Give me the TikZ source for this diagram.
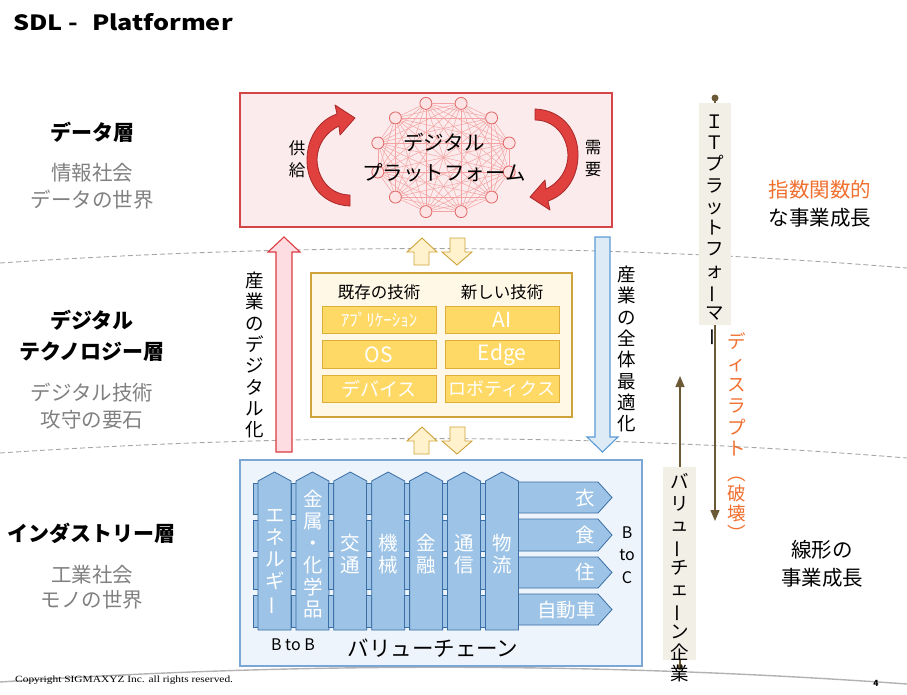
\documentclass[tikz,border=0pt]{standalone}
\usepackage{fontspec}
\usepackage{graphicx}
\setmainfont{Noto Sans CJK JP}
\newfontfamily\cpfont{Liberation Serif}
\usetikzlibrary{arrows.meta}
\definecolor{boxred}{HTML}{D64545}
\definecolor{boxredfill}{HTML}{FCEBEC}
\definecolor{netline}{HTML}{F3A3A3}
\definecolor{netnodefill}{HTML}{FDE3E3}
\definecolor{netnodedraw}{HTML}{E06464}
\definecolor{carrowfill}{HTML}{E0403E}
\definecolor{carrowdraw}{HTML}{A8282A}
\definecolor{uparrowfill}{HTML}{FDDDE2}
\definecolor{uparrowdraw}{HTML}{DC3A40}
\definecolor{dnarrowfill}{HTML}{DDEBF7}
\definecolor{dnarrowdraw}{HTML}{5B9BD5}
\definecolor{goldfill}{HTML}{FFF2CC}
\definecolor{golddraw}{HTML}{CFA23A}
\definecolor{goldbox}{HTML}{FFF8E6}
\definecolor{cellfill}{HTML}{FFD966}
\definecolor{celldraw}{HTML}{DDAE3A}
\definecolor{bluebox}{HTML}{EEF4FB}
\definecolor{blueboxdraw}{HTML}{7AA7D6}
\definecolor{pillarfill}{HTML}{9DC3E6}
\definecolor{pillardraw}{HTML}{3A6EA5}
\definecolor{beige}{HTML}{F2EFE6}
\definecolor{brownline}{HTML}{6B5A35}
\definecolor{orangetxt}{HTML}{F07030}
\definecolor{graytxt}{HTML}{808080}
\definecolor{dashgray}{HTML}{A6A6A6}
\newcommand\fsz[2]{\fontsize{#1}{#2}\selectfont}
\newcommand\vbar{\rotatebox[origin=c]{90}{ー}}
\begin{document}
\begin{tikzpicture}[x=1pt,y=-1pt,
  txt/.style={inner sep=0pt, align=center},
  layerhead/.style={txt, font=\bfseries\fsz{21}{27}},
  layersub/.style={txt, text=graytxt, font=\fsz{20.5}{27}},
  vtxt/.style={txt, font=\fsz{18.5}{21.3}},
  pillartxt/.style={txt, text=white, font=\fsz{19.5}{22}},
  celltxt/.style={txt, text=white},
  cellbox/.style={draw=celldraw, fill=cellfill, line width=0.8pt, minimum width=114pt, minimum height=27.5pt, inner sep=0pt},
  netnode/.style={circle, draw=netnodedraw, fill=netnodefill, minimum size=12pt, inner sep=0pt, line width=0.8pt},
  netedge/.style={draw=netline, line width=0.5pt},
  curvearrow/.style={fill=carrowfill, draw=carrowdraw, line width=0.8pt, line join=round},
  goldarrow/.style={fill=goldfill, draw=golddraw, line width=0.9pt, line join=miter},
  layerline/.style={dashgray, dashed, dash pattern=on 5pt off 3pt, line width=0.9pt},
  brownarrow/.style={draw=brownline, line width=1.4pt, -{Triangle[width=9pt,length=11pt]}},
]
\useasboundingbox (0,0) rectangle (907,694);

% ---------- layer separators ----------
\draw[layerline] (0,263) .. controls (300,243) and (600,243) .. (907,268);
\draw[layerline] (0,453) .. controls (300,433) and (600,433) .. (907,458);
\draw[draw=black!30, line width=1.4pt] (0,682) .. controls (300,662) and (600,662) .. (907,684);

% ---------- title ----------
\node[anchor=west, txt, font=\bfseries\fsz{21}{24}, xscale=1.2] (title) at (13,22) {SDL -\hspace{0.55em}Platformer};

% ---------- left layer labels ----------
\node[layerhead] (h1) at (92,132) {データ層};
\node[layersub] (s1a) at (92,173) {情報社会};
\node[layersub] (s1b) at (92,200) {データの世界};
\node[layerhead] (h2a) at (92,320) {デジタル};
\node[layerhead] (h2b) at (92,352) {テクノロジー層};
\node[layersub] (s2a) at (92,393) {デジタル技術};
\node[layersub] (s2b) at (92,420) {攻守の要石};
\node[layerhead] (h3) at (92,533) {インダストリー層};
\node[layersub] (s3a) at (92,575) {工業社会};
\node[layersub] (s3b) at (92,600) {モノの世界};

% ---------- data layer box ----------
\draw[draw=boxred, fill=boxredfill, line width=1.3pt] (240,93) rectangle (612,227);
\foreach \i in {0,...,11}{
  \node[netnode] (c\i) at ({443.5+68*cos(15+30*\i)},{157.5+56*sin(15+30*\i)}) {};
}
\foreach \i in {0,...,11}{
  \foreach \j in {0,...,11}{
    \ifnum\i<\j \draw[netedge] (c\i) -- (c\j); \fi
  }
}
\node[txt, font=\fsz{20.5}{30}] (dp) at (444,158) {デジタル\\プラットフォーム};
% curved arrows
\path[curvearrow] (350,206) .. controls (322,205) and (306,183) .. (307,158)
  .. controls (308,134) and (322,119) .. (337,114) -- (335,105) -- (355,118)
  -- (340,135) -- (339,126) .. controls (326,132) and (317,145) .. (317,160)
  .. controls (318,181) and (332,195) .. (350,195) -- cycle;
\begin{scope}[rotate around={180:(442.5,157.5)}]
\path[curvearrow] (350,206) .. controls (322,205) and (306,183) .. (307,158)
  .. controls (308,134) and (322,119) .. (337,114) -- (335,105) -- (355,118)
  -- (340,135) -- (339,126) .. controls (326,132) and (317,145) .. (317,160)
  .. controls (318,181) and (332,195) .. (350,195) -- cycle;
\end{scope}
\node[txt, font=\fsz{16.5}{22}] (kyo) at (297,159) {供\\給};
\node[txt, font=\fsz{16.5}{22}] (ju) at (593,159) {需\\要};

% ---------- big vertical arrows ----------
\draw[fill=uparrowfill, draw=uparrowdraw, line width=1.1pt]
  (284,237) -- (300,252) -- (292,252) -- (292,452) -- (276,452) -- (276,252) -- (268,252) -- cycle;
\node[vtxt] (lbl1) at (255,355) {産\\業\\の\\デ\\ジ\\タ\\ル\\化};
\draw[fill=dnarrowfill, draw=dnarrowdraw, line width=1.1pt]
  (595,237) -- (610,237) -- (610,437) -- (618,437) -- (602.5,452) -- (587,437) -- (595,437) -- cycle;
\node[vtxt] (lbl2) at (627,349) {産\\業\\の\\全\\体\\最\\適\\化};

% ---------- gold small arrows ----------
\foreach \dy in {0,189}{
  \begin{scope}[yshift=-\dy pt]
  \draw[goldarrow] (422,238) -- (437,252) -- (429,252) -- (429,265) -- (414,265) -- (414,252) -- (407,252) -- cycle;
  \draw[goldarrow] (450,238) -- (465,238) -- (465,252) -- (472,252) -- (457,265) -- (442,252) -- (450,252) -- cycle;
  \end{scope}
}

% ---------- technology box ----------
\draw[draw=golddraw, fill=goldbox, line width=1.1pt] (311,273) rectangle (572,417);
\node[txt, font=\fsz{16.5}{20}] (old) at (379,292) {既存の技術};
\node[txt, font=\fsz{16.5}{20}] (new) at (502,292) {新しい技術};
\node[cellbox] (a1) at (379,320) {};
\node[cellbox] (a2) at (379,354.5) {};
\node[cellbox] (a3) at (379,389) {};
\node[cellbox] (b1) at (502,320) {};
\node[cellbox] (b2) at (502,354.5) {};
\node[cellbox] (b3) at (502,389) {};
\node[celltxt, font=\fsz{17}{20}] at (a1) {ｱﾌﾟﾘｹｰｼｮﾝ};
\node[celltxt, font=\fsz{21}{24}] at (a2) {OS};
\node[celltxt, font=\fsz{19}{22}] at (a3) {デバイス};
\node[celltxt, font=\fsz{21}{24}] at (b1) {AI};
\node[celltxt, font=\fsz{21}{24}] at (b2) {Edge};
\node[celltxt, font=\fsz{18}{22}] at (b3) {ロボティクス};

% ---------- industry box ----------
\draw[draw=blueboxdraw, fill=bluebox, line width=1.3pt] (240,460) rectangle (642,666);
% B to C arrows
\foreach \ya/\yb in {482/513, 519/551, 557/588, 594/625}{
  \draw[fill=pillarfill, draw=pillardraw, line width=0.8pt]
    (510,\ya) -- (598,\ya) -- (612,{(\ya+\yb)/2}) -- (598,\yb) -- (510,\yb) -- cycle;
}
\node[pillartxt] (i1) at (585,498) {衣};
\node[pillartxt] (i2) at (585,535) {食};
\node[pillartxt] (i3) at (585,572) {住};
\node[pillartxt, anchor=east] (i4) at (596,610) {自動車};
% strips and pillars
\foreach \k in {0,...,6}{
  \pgfmathsetmacro\xa{258+37.9*\k}
  \pgfmathsetmacro\xb{\xa+33}
  \pgfmathsetmacro\xc{\xa+16.5}
  \pgfmathsetmacro\xs{\xa-5}
  \foreach \ya/\yb in {483/514, 520/551, 557/589, 595/627}{
    \draw[fill=pillarfill, draw=pillardraw, line width=0.7pt] (\xs,\ya) rectangle (\xa,\yb);
  }
  \draw[fill=pillarfill, draw=pillardraw, line width=0.8pt, line join=miter]
    (\xa,630) -- (\xa,481) -- (\xc,472) -- (\xb,481) -- (\xb,630) -- cycle;
}
\node[pillartxt] (p1) at (275,562.5) {エ\\ネ\\ル\\ギ\\\vbar};
\node[pillartxt] (p2) at (313,554) {金\\属\\・\\化\\学\\品};
\node[pillartxt] (p3) at (350.5,554) {交\\通};
\node[pillartxt] (p4) at (388.5,554) {機\\械};
\node[pillartxt] (p5) at (426.5,554) {金\\融};
\node[pillartxt] (p6) at (464.5,554) {通\\信};
\node[pillartxt] (p7) at (502,554) {物\\流};
\node[txt, font=\fsz{16}{22.5}] (btoc) at (627,555) {B\\to\\C};
\node[txt, font=\fsz{16}{18}] (btob) at (293,645) {B to B};
\node[txt, font=\fsz{21.5}{24}] (vc) at (433,648) {バリューチェーン};

% ---------- IT platformer column ----------
\node[circle, fill=brownline, minimum size=7pt, inner sep=0pt] (itdot) at (715,98) {};
\coordinate (ittip) at (715,521);
\draw[brownarrow] (itdot.center) -- (ittip);
\node[fill=beige, minimum width=32pt, minimum height=222pt, inner sep=0pt] (itbox) at (715,214) {};
\node[vtxt] (ittxt) at (715,230.5) {Ｉ\\Ｔ\\プ\\ラ\\ッ\\ト\\フ\\ォ\\\vbar\\マ\\\vbar};
\node[vtxt, text=orangetxt] (dis1) at (737,394.5) {デ\\ィ\\ス\\ラ\\プ\\ト};
\node[vtxt, text=orangetxt, font=\fsz{18.5}{20}] (dis2) at (737,509) {︵\\破\\壊\\︶};

% ---------- value chain column ----------
\node[circle, fill=brownline, minimum size=6pt, inner sep=0pt] (vcdot) at (680,667) {};
\coordinate (vctip) at (680,376);
\draw[brownarrow] (vcdot.center) -- (vctip);
\node[fill=beige, minimum width=33pt, minimum height=193pt, inner sep=0pt] (vcbox) at (679.5,563.5) {};
\node[vtxt] (vctxt) at (680,578) {バ\\リ\\ュ\\\vbar\\チ\\ェ\\\vbar\\ン\\企\\業};

% ---------- right texts ----------
\node[txt, text=orangetxt, font=\fsz{20.5}{24}] (exp1) at (820,190) {指数関数的};
\node[txt, font=\fsz{20.5}{24}] (exp2) at (820,218) {な事業成長};
\node[txt, font=\fsz{20.5}{24}] (lin1) at (822,550) {線形の};
\node[txt, font=\fsz{20.5}{24}] (lin2) at (822,578) {事業成長};

% ---------- footer ----------
\node[anchor=west, txt, font=\cpfont\fsz{9.5}{10}, xscale=1.2] (copy) at (15,680) {Copyright SIGMAXYZ Inc. all rights reserved.};
\node[txt, font=\bfseries\fsz{8.5}{9}] (pg) at (876,683) {4};
\end{tikzpicture}
\end{document}
